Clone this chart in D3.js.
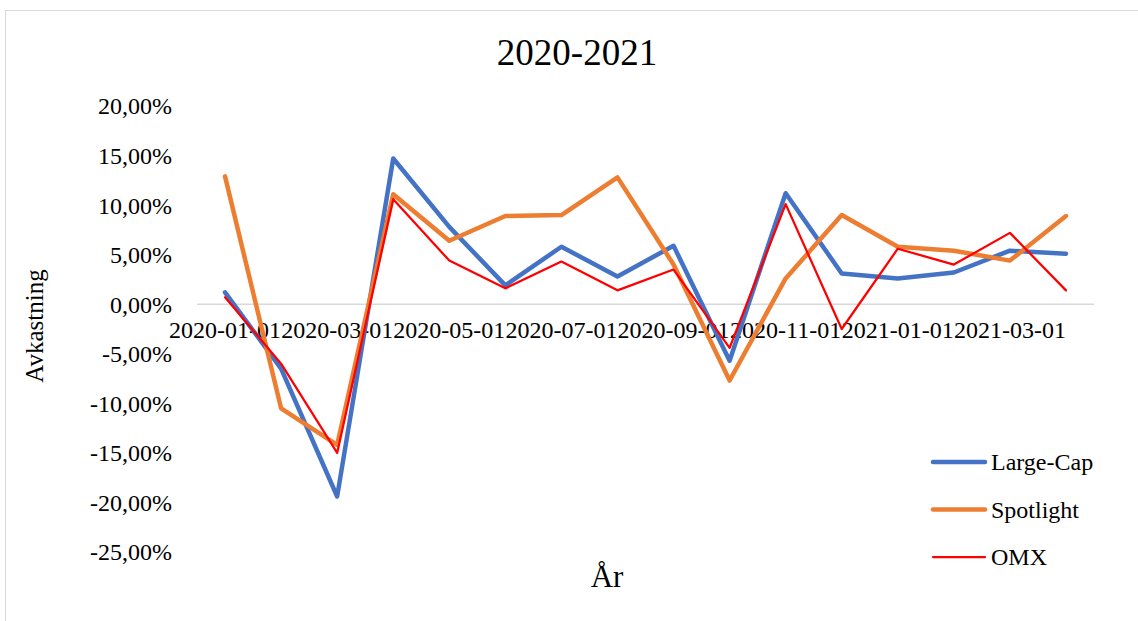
<!DOCTYPE html>
<html>
<head>
<meta charset="utf-8">
<script src="https://cdn.jsdelivr.net/npm/d3@7"></script>
<style>
  body { margin: 0; background: #fff; }
  text { font-family: "Liberation Serif", "Times New Roman", serif; fill: #000; }
</style>
</head>
<body>
<div id="chart"></div>
<script>
// months on the category axis
const months = ['2020-01-01', '2020-02-01', '2020-03-01', '2020-04-01', '2020-05-01', '2020-06-01',
  '2020-07-01', '2020-08-01', '2020-09-01', '2020-10-01', '2020-11-01', '2020-12-01',
  '2021-01-01', '2021-02-01', '2021-03-01', '2021-04-01'];

// monthly returns in percent
const largeCap = [1.2, -6.5, -19.4, 14.7, 7.8, 1.9, 5.8, 2.8, 5.9, -5.7, 11.2, 3.1, 2.6, 3.2, 5.4, 5.1];
const spotlight = [12.9, -10.5, -14.2, 11.1, 6.4, 8.9, 9.0, 12.8, 4.0, -7.7, 2.6, 9.0, 5.8, 5.4, 4.4, 8.9];
const omx = [0.7, -6.0, -15.0, 10.6, 4.4, 1.6, 4.3, 1.4, 3.5, -4.4, 10.1, -2.5, 5.6, 4.0, 7.2, 1.4];

const yTicks = [20, 15, 10, 5, 0, -5, -10, -15, -20, -25];

const series = [
  { name: 'Large-Cap', values: largeCap, color: '#4472C4', width: 4.5 },
  { name: 'Spotlight', values: spotlight, color: '#ED7D31', width: 4.5 },
  { name: 'OMX', values: omx, color: '#FF0000', width: 2.25 }
];

const width = 1138;
const height = 621;

const svg = d3.select('#chart')
  .append('svg')
  .attr('width', width)
  .attr('height', height);

// chart frame
svg.append('rect')
  .attr('x', 5.5)
  .attr('y', 10.5)
  .attr('width', 1140)
  .attr('height', 630)
  .attr('fill', 'none')
  .attr('stroke', '#d9d9d9');

const x = d3.scaleBand()
  .domain(months)
  .range([197, 1094])
  .padding(0);

const y = d3.scaleLinear()
  .domain([-25, 20])
  .range([552, 106]);

const cx = (d) => x(d) + x.bandwidth() / 2;
// excel style: comma decimal, plain hyphen for minus
const fmt = (v) => d3.format('.2f')(v).replace('.', ',').replace('\u2212', '-') + '%';

// title
svg.append('text')
  .attr('x', 577)
  .attr('y', 65)
  .attr('text-anchor', 'middle')
  .style('font-size', '37px')
  .text('2020-2021');

// y axis labels
svg.append('g')
  .selectAll('text')
  .data(yTicks)
  .enter()
  .append('text')
  .attr('x', 172)
  .attr('y', (d) => y(d))
  .attr('dy', '0.35em')
  .attr('text-anchor', 'end')
  .style('font-size', '24px')
  .text(fmt);

// zero line
svg.append('line')
  .attr('x1', 197)
  .attr('x2', 1094)
  .attr('y1', y(0))
  .attr('y2', y(0))
  .attr('stroke', '#d9d9d9')
  .attr('stroke-width', 1.5);

// x axis labels, every second month
svg.append('g')
  .selectAll('text')
  .data(months.filter((d, i) => i % 2 === 0))
  .enter()
  .append('text')
  .attr('x', cx)
  .attr('y', y(0) + 34)
  .attr('text-anchor', 'middle')
  .style('font-size', '24px')
  .text((d) => d);

// axis titles
svg.append('text')
  .attr('transform', 'translate(43,326) rotate(-90)')
  .attr('text-anchor', 'middle')
  .style('font-size', '25px')
  .text('Avkastning');

svg.append('text')
  .attr('x', 607)
  .attr('y', 587)
  .attr('text-anchor', 'middle')
  .style('font-size', '31px')
  .text('År');

// lines
const line = d3.line()
  .x((d, i) => cx(months[i]))
  .y((d) => y(d));

svg.append('g')
  .selectAll('path')
  .data(series)
  .enter()
  .append('path')
  .attr('d', (d) => line(d.values))
  .attr('fill', 'none')
  .attr('stroke', (d) => d.color)
  .attr('stroke-width', (d) => d.width)
  .attr('stroke-linejoin', 'round')
  .attr('stroke-linecap', 'round');

// legend
const legend = svg.append('g')
  .selectAll('g')
  .data(series)
  .enter()
  .append('g')
  .attr('transform', (d, i) => `translate(933,${462 + i * 47.5})`);

legend.append('line')
  .attr('x1', 0)
  .attr('x2', 52)
  .attr('stroke', (d) => d.color)
  .attr('stroke-width', (d) => d.width)
  .attr('stroke-linecap', 'round');

legend.append('text')
  .attr('x', 58)
  .attr('dy', '0.35em')
  .style('font-size', '24px')
  .text((d) => d.name);
</script>
</body>
</html>
